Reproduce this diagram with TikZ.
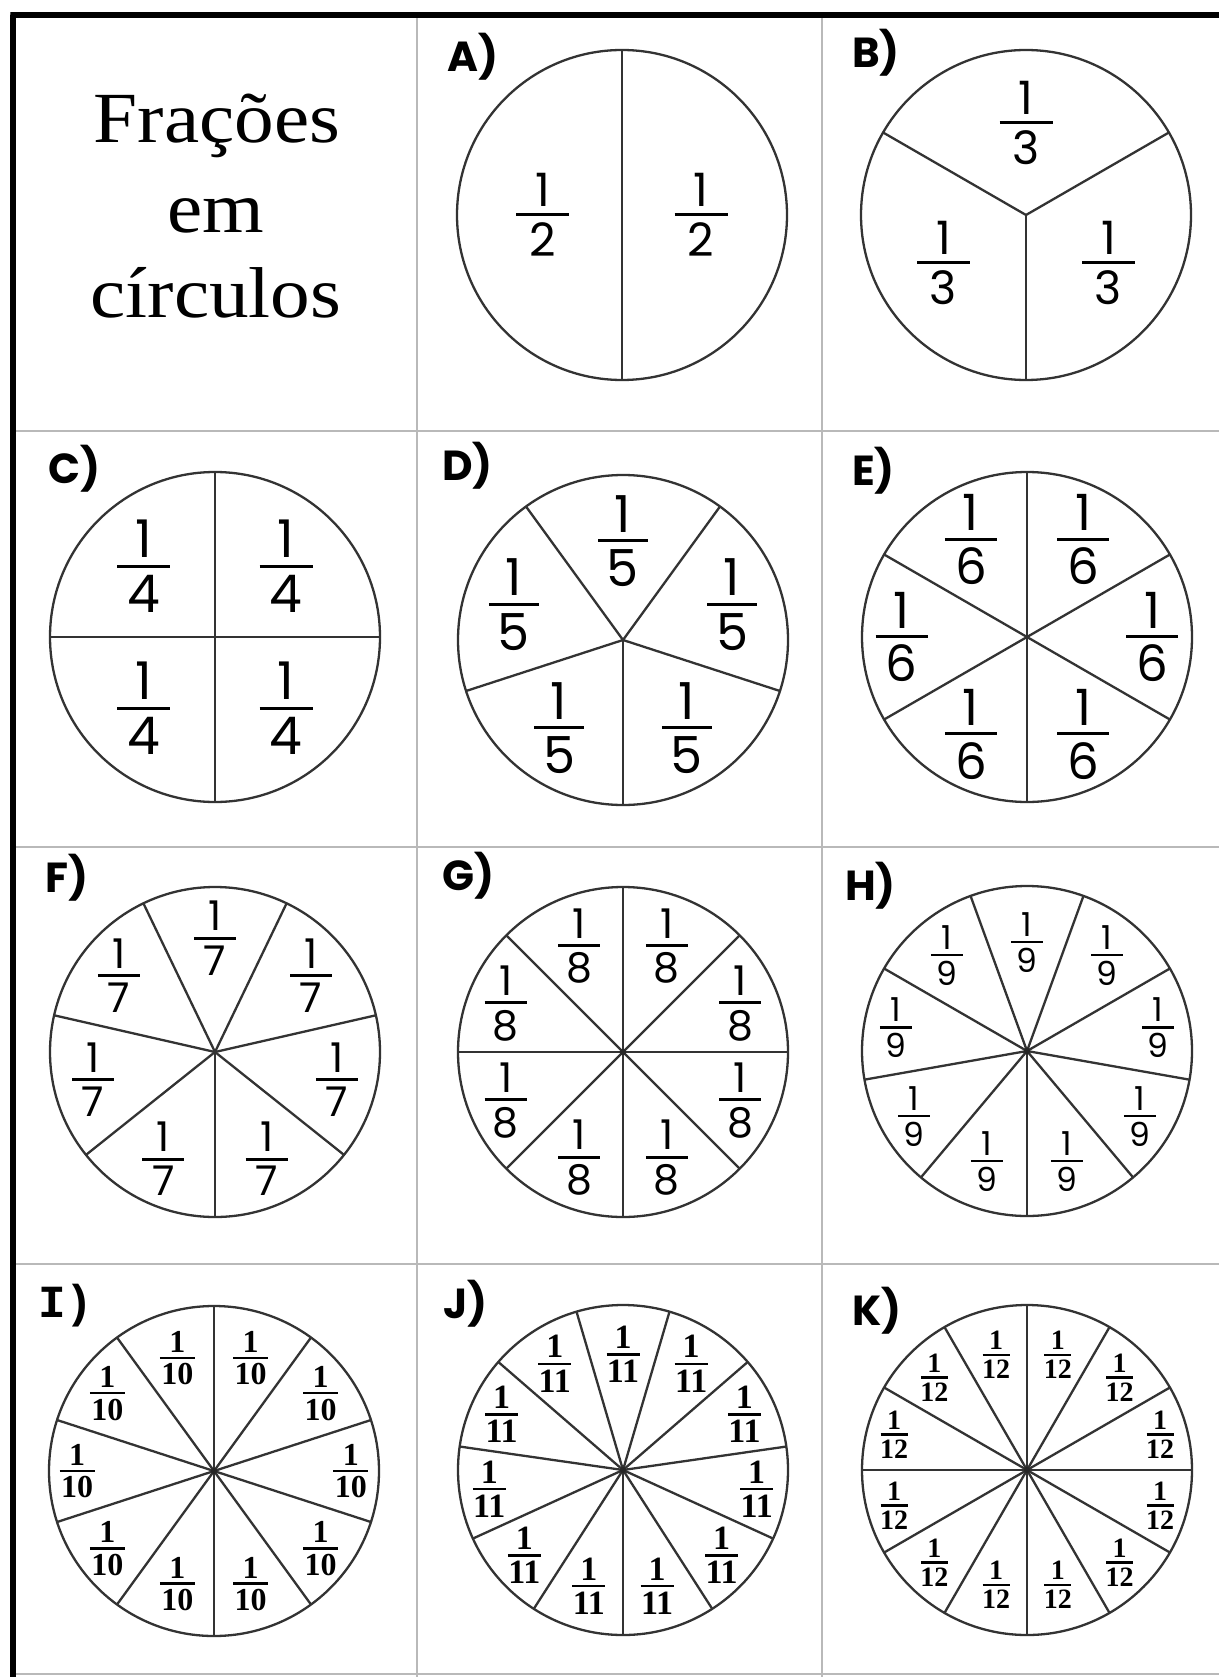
\documentclass[tikz,border=0pt]{standalone}
\usepackage{fontspec}
\usetikzlibrary{calc}
\newfontfamily\comicf{Poppins}
\newfontfamily\titlef{Liberation Serif}[FakeStretch=1.1]
\newfontfamily\serf{Liberation Serif}
\newfontfamily\monof{Liberation Mono}
% fraction: #1 num, #2 den, #3 bar width, #4 gap, #5 bar thickness
\newcommand\fr[5]{\vbox{\offinterlineskip\hbox to #3{\hss#1\hss}\kern#4\hrule height #5\kern#4\hbox to #3{\hss#2\hss}}}
\tikzset{
  gridline/.style={draw=gray!55, line width=2.6pt},
  borderline/.style={draw=black, line width=5.5pt},
  pie/.style={circle, draw=black!80, line width=2.3pt, inner sep=0pt, minimum size=330pt},
  spoke/.style={draw=black!80, line width=2.3pt},
  lbl/.style={anchor=base west, inner sep=0pt, font=\comicf\bfseries\fontsize{42}{42}\selectfont},
  ttl/.style={anchor=base, inner sep=0pt, font=\titlef\fontsize{72}{72}\selectfont},
  fracnode/.style={inner sep=0pt}
}
\begin{document}
\begin{tikzpicture}[x=1pt,y=1pt]
\useasboundingbox (0,0) rectangle (1219,-1677);
\fill[white] (0,0) rectangle (1219,-1677);
% grid
\coordinate (v1t) at (417,-15); \coordinate (v1b) at (417,-1677);
\coordinate (v2t) at (822,-15); \coordinate (v2b) at (822,-1677);
\draw[gridline] (v1t) -- (v1b);
\draw[gridline] (v2t) -- (v2b);
\coordinate (h1l) at (13,-431); \coordinate (h1r) at (1219,-431);
\coordinate (h2l) at (13,-847); \coordinate (h2r) at (1219,-847);
\coordinate (h3l) at (13,-1264); \coordinate (h3r) at (1219,-1264);
\coordinate (h4l) at (13,-1674); \coordinate (h4r) at (1219,-1674);
\draw[gridline] (h1l) -- (h1r);
\draw[gridline] (h2l) -- (h2r);
\draw[gridline] (h3l) -- (h3r);
\draw[gridline, line width=2pt] (h4l) -- (h4r);
% outer border
\coordinate (btl) at (10.25,-15); \coordinate (btr) at (1219,-15);
\coordinate (bl) at (13,-1677);
\draw[borderline] (btr) -- (btl) -- ++(2.75,0) -- (bl);
% title
\node[ttl] (t1) at (217,-143) {Frações};
\node[ttl] (t2) at (216,-233) {em};
\node[ttl] (t3) at (216,-318) {círculos};
% letters
\node[lbl] (lA) at (447,-72) {A)};
\node[lbl] (lB) at (852,-68) {B)};
\node[lbl] (lC) at (48,-483) {C)};
\node[lbl] (lD) at (442,-480) {D)};
\node[lbl] (lE) at (852,-485) {E)};
\node[lbl] (lF) at (45,-892) {F)};
\node[lbl] (lG) at (442,-890) {G)};
\node[lbl] (lH) at (845,-900) {H)};
\node[lbl, font=\monof\bfseries\fontsize{46}{46}\selectfont] (lI) at (38,-1317) {I)};
\node[lbl] (lJ) at (443,-1318) {J)};
\node[lbl] (lK) at (852,-1325) {K)};
% pies
\foreach \nm/\cx/\cy/\n/\st/\la/\lb/\fs/\bw/\ff in {
  A/622/215/2/90/0.48/0.48/46/53/\comicf,
  B/1026/215/3/270/0.58/0.56/46/53/\comicf,
  C/215/637/4/0/0.61/0.61/52/53/\comicf,
  D/623/640/5/270/0.70/0.60/51/50/\comicf,
  E/1027/637/6/90/0.76/0.60/50/52/\comicf,
  F/215/1052/7/270/0.76/0.69/41/42/\comicf,
  G/623/1052/8/0/0.78/0.64/41/42/\comicf,
  H/1027/1051/9/270/0.81/0.66/33/32/\comicf,
  I/214/1471/10/90/0.83/0.67/32/35/\serf\bfseries,
  J/623/1470/11/270/0.82/0.70/34/33/\serf\bfseries,
  K/1027/1470/12/0/0.84/0.68/28/27/\serf\bfseries}{
  \node[pie] (c\nm) at (\cx,-\cy) {};
  \pgfmathsetmacro\gp{0.14*\fs}
  \pgfmathsetmacro\tk{\fs>40?3:2.4}
  \foreach \k in {1,...,\n}{
    \pgfmathsetmacro\sa{\st+360/\n*\k}
    \pgfmathsetmacro\ta{\st+360/\n*(\k-0.5)}
    \pgfmathsetmacro\rr{165*(\lb+(\la-\lb)*abs(cos(\ta)))}
    \draw[spoke] (c\nm.center) -- ($(c\nm.center)+(\sa:165)$);
    \node[fracnode] (f\nm\k) at ($(c\nm.center)+(\ta:\rr)$)
      {\ff\fontsize{\fs pt}{\fs pt}\selectfont\fr{1}{\n}{\bw pt}{\gp pt}{\tk pt}};
  }
  \ifnum\n>7 \fill[black!85] (c\nm.center) circle (3.2); \fi
}
\end{tikzpicture}
\end{document}
